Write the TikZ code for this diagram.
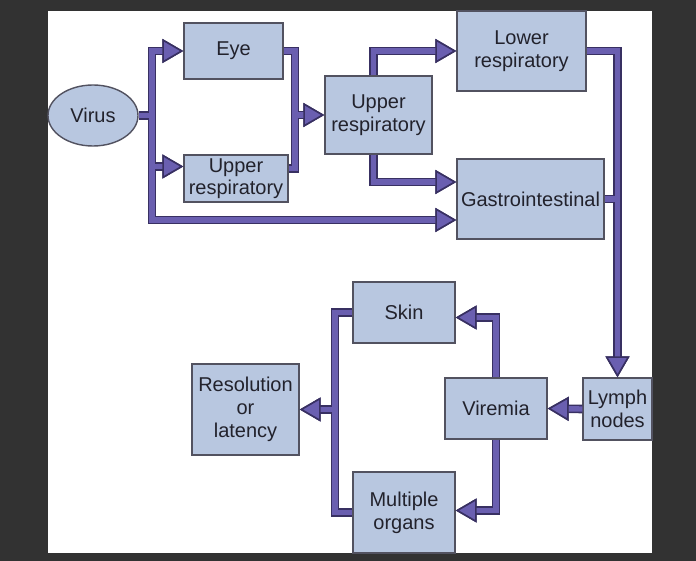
\documentclass[tikz,border=0pt]{standalone}
\usepackage{fontspec}
\setmainfont{Liberation Sans}
\usetikzlibrary{arrows.meta, shapes.geometric}
\definecolor{backdrop}{RGB}{50,50,50}
\definecolor{boxfill}{RGB}{184,199,224}
\definecolor{boxline}{RGB}{82,82,96}
\definecolor{flowfill}{RGB}{106,95,176}
\definecolor{flowline}{RGB}{56,48,98}
\definecolor{labeltext}{RGB}{34,34,44}

% all spreading routes, drawn once as outline and once as fill
\newcommand{\spreadroutes}[1]{%
  \draw[#1, -{flowtip}] (virus.east) -- (vtrunk) |- (eye.west);
  \draw[#1, -{flowtip}] (vtrunk) |- ([yshift=6pt]upL.west);
  \draw[#1, -{flowtip}] (vtrunk) |- ([yshift=-10.5pt]gastro.west);
  \draw[#1, -{flowtip}] (eye.east) -| (ejoin) -- (upM.west);
  \draw[#1] ([yshift=5pt]upL.east) -| (ejoin);
  \draw[#1, -{flowtip}] ([xshift=-2.5pt]upM.north) |- (lower.west);
  \draw[#1, -{flowtip}] ([xshift=-2.5pt]upM.south) |- ([yshift=8.5pt]gastro.west);
  \draw[#1, -{flowtip}] (lower.east) -| (lymph.north);
  \draw[#1] (gastro.east) -- (gastro.east -| lymph.north);
  \draw[#1, -{flowtip}] (lymph.west) -- (viremia.east);
  \draw[#1, -{flowtip}] (viremia.north) |- ([yshift=-2.5pt]skin.east);
  \draw[#1, -{flowtip}] (viremia.south) |- ([yshift=1pt]multi.east);
  \draw[#1] (skin.west) -| (rjoin) |- (multi.west);
  \draw[#1, -{flowtip}] (rjoin) -- (res.east);
}

\begin{document}
\begin{tikzpicture}[x=0.5pt, y=-0.5pt,
    box/.style={draw=boxline, fill=boxfill, line width=0.7pt, inner sep=0pt,
      align=center, text=labeltext, font=\fontsize{10}{11.5}\selectfont},
    flowtip/.tip={Triangle[length=10.5pt, width=12pt, line width=0.8pt,
      fill=flowfill, color=flowline]},
    outline/.style={draw=flowline, line width=4.3pt},
    inside/.style={draw=flowfill, line width=2.7pt}]
  \useasboundingbox (0,0) rectangle (696,561);
  \fill[backdrop] (0,0) rectangle (696,561);
  \fill[white] (48,11) rectangle (652,553);
  % entry sites
  \node[box, ellipse, minimum width=45pt, minimum height=30.5pt] (virus) at (93,115.5) {Virus};
  \node[box, minimum width=49.5pt, minimum height=28pt] (eye) at (233.5,51) {Eye};
  \node[box, minimum width=52pt, minimum height=23.5pt,
    font=\fontsize{10}{10.8}\selectfont] (upL) at (236,178.5) {Upper\\respiratory};
  \node[box, minimum width=53.5pt, minimum height=39pt] (upM) at (378.5,115) {Upper\\respiratory};
  \node[box, minimum width=64.5pt, minimum height=40pt] (lower) at (521.5,51) {Lower\\respiratory};
  \node[box, minimum width=73.5pt, minimum height=40pt] (gastro) at (530.5,199) {Gastrointestinal};
  % spread through the body
  \node[box, minimum width=34.5pt, minimum height=31pt] (lymph) at (617.5,409) {Lymph\\nodes};
  \node[box, minimum width=51pt, minimum height=30.5pt] (viremia) at (496,408.5) {Viremia};
  \node[box, minimum width=51pt, minimum height=30.5pt] (skin) at (404,312.5) {Skin};
  \node[box, minimum width=51pt, minimum height=40.5pt] (multi) at (404,512.5) {Multiple\\organs};
  \node[box, minimum width=53.5pt, minimum height=45.5pt] (res) at (245.5,409.5) {Resolution\\or\\latency};
  % junctions
  \coordinate (vtrunk) at (152,115.5);
  \coordinate (ejoin) at (295,115);
  \coordinate (rjoin) at (335,409.5);
  \spreadroutes{outline}
  \spreadroutes{inside}
\end{tikzpicture}
\end{document}
